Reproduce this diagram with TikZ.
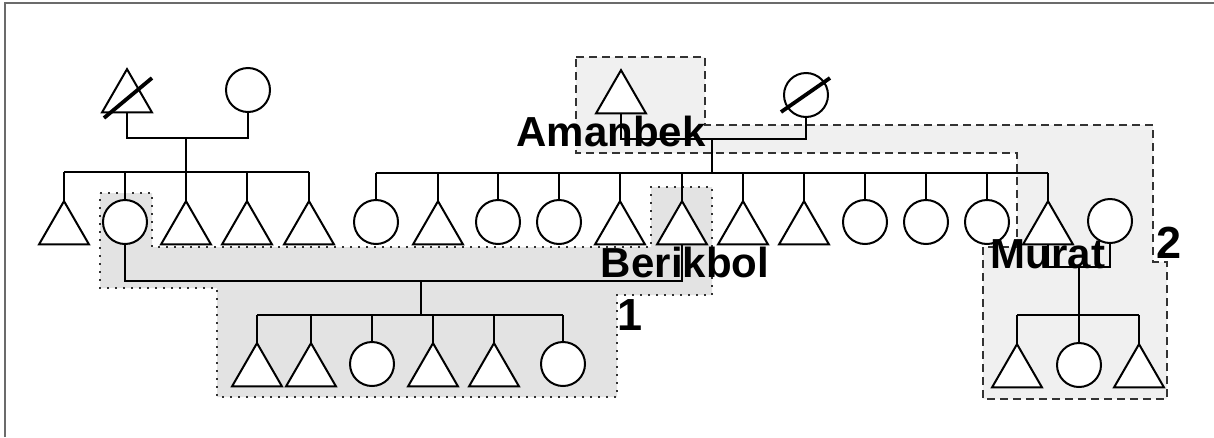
\documentclass[tikz,border=0pt]{standalone}
\usepackage{fontspec}
\setmainfont{Liberation Sans}
\usetikzlibrary{shapes.geometric,calc}
\begin{document}
\begin{tikzpicture}[x=1pt,y=-1pt,
  ln/.style={line width=2pt, black},
  tri/.style={regular polygon, regular polygon sides=3, draw, line width=2pt, fill=white, inner sep=0pt, outer sep=0pt, minimum size=57.7pt},
  circ/.style={circle, draw, line width=2pt, fill=white, inner sep=0pt, outer sep=0pt, minimum size=44pt},
  slashln/.style={line width=3.8pt},
  regone/.style={fill=black!11, draw=black!80, line width=1.5pt, dash pattern=on 2pt off 6pt},
  regtwo/.style={fill=black!6, draw=black!80, line width=1.4pt, dash pattern=on 8pt off 5pt},
  lbl/.style={font=\fontsize{42}{42}\selectfont\bfseries, inner sep=0pt, anchor=base},
  numlbl/.style={font=\fontsize{45}{45}\selectfont\bfseries, inner sep=0pt, anchor=base},
  frameln/.style={draw=black!58, line width=1.3pt}]
\useasboundingbox (0,0) rectangle (1214,437);
\draw[frameln] (5,437) -- (5,3) -- (1214,3);

% highlighted regions
\draw[regone] (100,193) -- (152,193) -- (152,247) -- (651,247) -- (651,187) -- (712,187) -- (712,295) -- (617,295) -- (617,397) -- (217,397) -- (217,288) -- (100,288) -- cycle;
\draw[regtwo] (576,57) -- (705,57) -- (705,125) -- (1153,125) -- (1153,262) -- (1167,262) -- (1167,399) -- (983,399) -- (983,247) -- (1017,247) -- (1017,153) -- (576,153) -- cycle;

% generation 1, left couple
\node[tri] (gma) at (127,98) {};
\node[circ] (gfa) at (248,90) {};
\draw[slashln] ($(gma)+(-23,20)$) -- ($(gma)+(25,-20)$);
\coordinate (mara) at (186,138);
\coordinate (siba) at (186,172);
\draw[ln] (gma.south) |- (mara) -| (gfa.south);
\draw[ln] (mara) -- (siba);

% generation 1, right couple
\node[tri] (am) at (621,99) {};
\node[circ] (amw) at (806,95) {};
\draw[slashln] ($(amw)+(-25,17)$) -- ($(amw)+(24,-17)$);
\coordinate (marb) at (712,139);
\coordinate (sibb) at (712,173);
\draw[ln] (am.south) |- (marb) -| (amw.south);
\draw[ln] (marb) -- (sibb);

% children of left couple
\node[tri]  (a1) at (64,230) {};
\node[circ] (a2) at (125,222) {};
\node[tri]  (a3) at (186,230) {};
\node[tri]  (a4) at (247,230) {};
\node[tri]  (a5) at (309,230) {};
\draw[ln] (a1.north |- siba) -- (a5.north |- siba);
\foreach \n in {a1,a2,a3,a4,a5} \draw[ln] (\n.north) -- (\n.north |- siba);

% children of right couple
\node[circ] (b1) at (376,222) {};
\node[tri]  (b2) at (438,230) {};
\node[circ] (b3) at (498,222) {};
\node[circ] (b4) at (559,222) {};
\node[tri]  (b5) at (620,230) {};
\node[tri]  (ber) at (682,230) {};
\node[tri]  (b7) at (743,230) {};
\node[tri]  (b8) at (804,230) {};
\node[circ] (b9) at (865,222) {};
\node[circ] (b10) at (926,222) {};
\node[circ] (b11) at (987,222) {};
\node[tri]  (mur) at (1048,230) {};
\node[circ] (murw) at (1110,221) {};
\draw[ln] (b1.north |- sibb) -- (mur.north |- sibb);
\foreach \n in {b1,b2,b3,b4,b5,ber,b7,b8,b9,b10,b11,mur} \draw[ln] (\n.north) -- (\n.north |- sibb);

% Berikbol's family
\coordinate (marc) at (421,281);
\coordinate (sibc) at (421,315);
\draw[ln] (a2.south) |- (marc) -| (ber.south);
\draw[ln] (marc) -- (sibc);
\node[tri]  (c1) at (257,372) {};
\node[tri]  (c2) at (311,372) {};
\node[circ] (c3) at (372,364) {};
\node[tri]  (c4) at (433,372) {};
\node[tri]  (c5) at (494,372) {};
\node[circ] (c6) at (563,364) {};
\draw[ln] (c1.north |- sibc) -- (c6.north |- sibc);
\foreach \n in {c1,c2,c3,c4,c5,c6} \draw[ln] (\n.north) -- (\n.north |- sibc);

% Murat's family
\coordinate (mard) at (1079,267);
\coordinate (sibd) at (1079,315);
\draw[ln] (mur.south) |- (mard) -| (murw.south);
\draw[ln] (mard) -- (sibd);
\node[tri]  (d1) at (1017,373) {};
\node[circ] (d2) at (1079,365) {};
\node[tri]  (d3) at (1139,373) {};
\draw[ln] (d1.north |- sibd) -- (d3.north |- sibd);
\foreach \n in {d1,d2,d3} \draw[ln] (\n.north) -- (\n.north |- sibd);

% labels
\node[lbl] (tam) at (611,146) {Amanbek};
\node[lbl] (tber) at (685,277) {Berikbol};
\node[lbl] (tmur) at (1048,268) {Murat};
\node[numlbl] (tone) at (630,330) {1};
\node[numlbl] (ttwo) at (1169,258) {2};
\end{tikzpicture}
\end{document}
